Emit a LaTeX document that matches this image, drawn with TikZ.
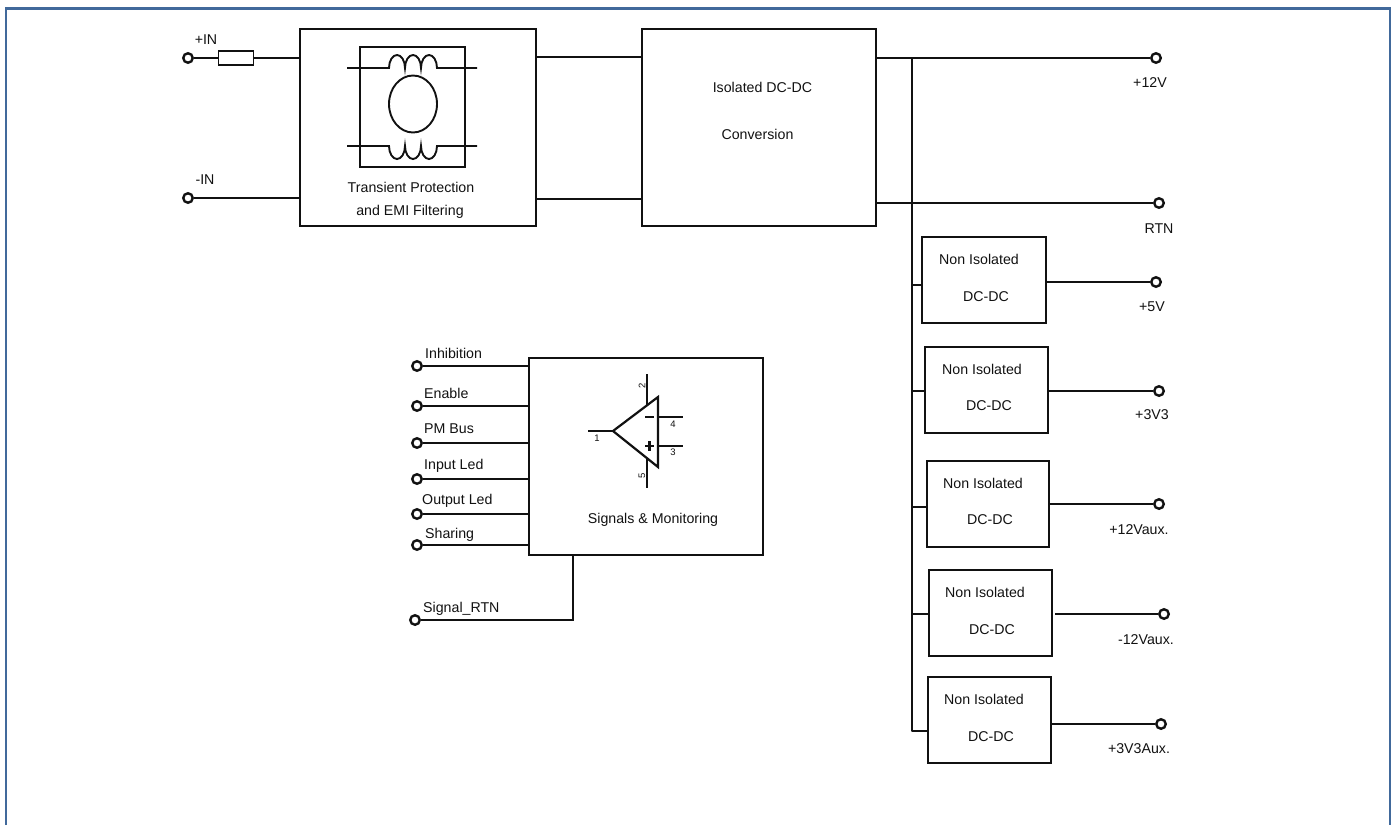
\documentclass[tikz,border=0pt]{standalone}
\usepackage{fontspec}
\setmainfont{Liberation Sans}
\usetikzlibrary{positioning, calc, shapes.geometric}
\definecolor{Frame}{HTML}{41699B}
\definecolor{Ink}{HTML}{111111}
\tikzset{
    blockbox/.style={rectangle, draw=Ink, line width=2.2pt, inner sep=0pt, outer sep=0pt, anchor=north west},
    term/.style={circle, draw=Ink, fill=white, line width=2.4pt, minimum size=9.5pt, inner sep=0pt},
    wire/.style={draw=Ink, line width=2.2pt},
    thinwire/.style={draw=Ink, line width=1.9pt},
    lbl/.style={font=\fontsize{14.2}{16}\selectfont, text=Ink, inner sep=0pt, anchor=base},
    pinlbl/.style={font=\fontsize{9.5}{10}\selectfont, text=Ink, inner sep=0pt},
}
\begin{document}
\begin{tikzpicture}[x=1pt, y=-1pt]
    \useasboundingbox (0,0) rectangle (1392,825);
    % Cadre
    \draw[Frame, line width=2.8pt] (6,825) -- (6,8.5) -- (1390,8.5) -- (1390,825);

    % Blocs principaux
    \node[blockbox, minimum width=236pt, minimum height=197pt] (filter) at (300,29) {};
    \node[blockbox, minimum width=234pt, minimum height=197pt] (iso) at (642,29) {};
    \node[blockbox, minimum width=234pt, minimum height=197pt] (sig) at (529,358) {};

    % Blocs DC-DC
    \node[blockbox, minimum width=124pt, minimum height=86pt] (dca) at (922,237) {};
    \node[blockbox, minimum width=123pt, minimum height=86pt] (dcb) at (925,347) {};
    \node[blockbox, minimum width=122pt, minimum height=86pt] (dcc) at (927,461) {};
    \node[blockbox, minimum width=123pt, minimum height=86pt] (dcd) at (929,570) {};
    \node[blockbox, minimum width=123pt, minimum height=86pt] (dce) at (928,677) {};

    % Bornes
    \node[term] (inp) at (188,58) {};
    \node[term] (inn) at (188,198) {};
    \node[term] (o12) at (1156,58) {};
    \node[term] (ortn) at (1159,203) {};
    \node[term] (o5) at (1156,282) {};
    \node[term] (o33) at (1159,391) {};
    \node[term] (o12a) at (1159,504) {};
    \node[term] (om12a) at (1164,614) {};
    \node[term] (o33a) at (1161,724) {};
    \node[term] (s1) at (417,366) {};
    \node[term] (s2) at (417,406) {};
    \node[term] (s3) at (417,443) {};
    \node[term] (s4) at (417,479) {};
    \node[term] (s5) at (417,514) {};
    \node[term] (s6) at (417,545) {};
    \node[term] (srtn) at (415,620) {};

    % Fils d'entree
    \node[rectangle, draw=Ink, line width=1.9pt, minimum width=35pt, minimum height=14pt, inner sep=0pt] (fuse) at (236,58) {};
    \draw[wire] (inp) -- (fuse);
    \draw[wire] (fuse) -- (fuse -| filter.west);
    \draw[wire] (inn) -- (inn -| filter.west);

    % Liaisons filtre vers convertisseur
    \draw[wire] (filter.east |- 0,57) -- (iso.west |- 0,57);
    \draw[wire] (filter.east |- 0,199) -- (iso.west |- 0,199);

    % Sorties isolees et bus
    \draw[wire] (iso.east |- o12) -- (o12);
    \draw[wire] (iso.east |- ortn) -- (ortn);
    \coordinate (bustop) at (912,58);
    \coordinate (busend) at (912,731);
    \draw[wire, line join=round] (bustop) -- (busend) -- (busend -| dce.west);
    \foreach \dc/\yy in {dca/285, dcb/391, dcc/507, dcd/614}
        \draw[wire] (912,\yy) -- (\dc.west |- 0,\yy);

    % Sorties DC-DC
    \draw[wire] (dca.east |- o5) -- (o5);
    \draw[wire] (dcb.east |- o33) -- (o33);
    \draw[wire] (dcc.east |- o12a) -- (o12a);
    \draw[wire] (1055,614) -- (om12a);
    \draw[wire] (dce.east |- o33a) -- (o33a);

    % Signaux
    \foreach \s in {s1,s2,s3,s4,s5,s6}
        \draw[wire] (\s) -- (\s -| sig.west);
    \draw[wire] (srtn) -- (573,620) -- (573,555);

    % Self de mode commun
    \node[rectangle, draw=Ink, line width=1.9pt, minimum width=105pt, minimum height=120pt, inner sep=0pt] (choke) at (412.5,107) {};
    \node[ellipse, draw=Ink, line width=1.9pt, minimum width=48pt, minimum height=57pt, inner sep=0pt] (core) at (413,104) {};
    \draw[thinwire] (347,68) -- (389,68)
        arc[start angle=180, end angle=0, x radius=8pt, y radius=13pt]
        arc[start angle=180, end angle=0, x radius=8pt, y radius=13pt]
        arc[start angle=180, end angle=0, x radius=8pt, y radius=13pt] -- (477,68);
    \draw[thinwire] (347,146) -- (389,146)
        arc[start angle=180, end angle=360, x radius=8pt, y radius=13pt]
        arc[start angle=180, end angle=360, x radius=8pt, y radius=13pt]
        arc[start angle=180, end angle=360, x radius=8pt, y radius=13pt] -- (477,146);

    % Ampli
    \coordinate (opa) at (613,431);
    \coordinate (opb) at (658,397);
    \coordinate (opc) at (658,467);
    \draw[wire, line join=miter] (opa) -- (opb) -- (opc) -- cycle;
    \draw[wire] (588,431) -- (opa);
    \draw[wire] (647,374) -- (647,405);
    \draw[wire] (647,459) -- (647,488);
    \draw[wire] (658,417) -- (683,417);
    \draw[wire] (658,446) -- (683,446);
    \draw[draw=Ink, line width=2.8pt] (645,417) -- (654,417);
    \draw[draw=Ink, line width=2.8pt] (645,446) -- (654,446);
    \draw[draw=Ink, line width=2.8pt] (649.5,441) -- (649.5,451);
    \node[pinlbl] (pa) at (597,438) {1};
    \node[pinlbl, rotate=90] (pb) at (642,386) {2};
    \node[pinlbl] (pc) at (673,452) {3};
    \node[pinlbl] (pd) at (673,424) {4};
    \node[pinlbl, rotate=90] (pe) at (642,476) {5};

    % Textes
    \node[lbl] (tinp) at (206,44) {+IN};
    \node[lbl] (tinn) at (205,184) {-IN};
    \node[lbl] (tfa) at (411,192) {Transient Protection};
    \node[lbl] (tfb) at (410,215) {and EMI Filtering};
    \node[lbl] (tia) at (762.5,92) {Isolated DC-DC};
    \node[lbl] (tib) at (757.5,139) {Conversion};
    \node[lbl] (t12) at (1150,87) {+12V};
    \node[lbl] (trtn) at (1159,233) {RTN};
    \node[lbl] (t5) at (1152,311) {+5V};
    \node[lbl] (t33) at (1152,419) {+3V3};
    \node[lbl] (t12a) at (1139,534) {+12Vaux.};
    \node[lbl] (tm12a) at (1146,644) {-12Vaux.};
    \node[lbl] (t33a) at (1139,753) {+3V3Aux.};
    \foreach \nm/\xa/\ya/\xb/\yb in {na/979/264/986/301, nb/982/374/989/410, nc/983/488/990/524, nd/985/597/992/634, ne/984/704/991/741} {
        \node[lbl] (\nm a) at (\xa,\ya) {Non Isolated};
        \node[lbl] (\nm b) at (\xb,\yb) {DC-DC};
    }
    \node[lbl] (ts) at (653,523) {Signals \& Monitoring};
    \node[lbl, anchor=base west] (ls1) at (425,358) {Inhibition};
    \node[lbl, anchor=base west] (ls2) at (424,398) {Enable};
    \node[lbl, anchor=base west] (ls3) at (424,433) {PM Bus};
    \node[lbl, anchor=base west] (ls4) at (424,469) {Input Led};
    \node[lbl, anchor=base west] (ls5) at (422,504) {Output Led};
    \node[lbl, anchor=base west] (ls6) at (425,538) {Sharing};
    \node[lbl, anchor=base west] (ls7) at (423,612) {Signal\_RTN};
\end{tikzpicture}
\end{document}
